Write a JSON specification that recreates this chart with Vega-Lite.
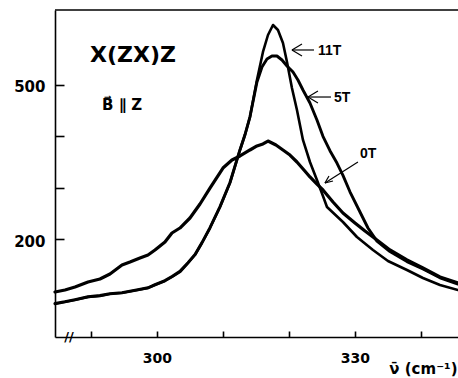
{
  "$schema": "https://vega.github.io/schema/vega-lite/v6.json",
  "width": 403,
  "height": 327,
  "autosize": {"type": "none"},
  "padding": {"left": 55, "top": 10, "right": 0, "bottom": 41},
  "background": "white",
  "config": {
    "view": {"stroke": null},
    "axis": {
      "grid": false,
      "domainColor": "black",
      "domainWidth": 1.6,
      "tickColor": "black",
      "tickWidth": 1.6,
      "labelColor": "black",
      "labelFont": "DejaVu Sans",
      "labelFontWeight": "bold",
      "titleColor": "black"
    }
  },
  "datasets": {
    "spectra": [
      {"field": "0T", "wavenumber": 284.55, "intensity": 96.8},
      {"field": "0T", "wavenumber": 286.06, "intensity": 100.7},
      {"field": "0T", "wavenumber": 287.58, "intensity": 106.5},
      {"field": "0T", "wavenumber": 289.55, "intensity": 116.2},
      {"field": "0T", "wavenumber": 291.36, "intensity": 122.1},
      {"field": "0T", "wavenumber": 292.88, "intensity": 131.8},
      {"field": "0T", "wavenumber": 294.7, "intensity": 149.4},
      {"field": "0T", "wavenumber": 295.91, "intensity": 155.2},
      {"field": "0T", "wavenumber": 297.42, "intensity": 163.0},
      {"field": "0T", "wavenumber": 298.64, "intensity": 168.8},
      {"field": "0T", "wavenumber": 299.7, "intensity": 178.6},
      {"field": "0T", "wavenumber": 301.21, "intensity": 194.2},
      {"field": "0T", "wavenumber": 302.27, "intensity": 211.7},
      {"field": "0T", "wavenumber": 303.48, "intensity": 221.4},
      {"field": "0T", "wavenumber": 305.0, "intensity": 240.9},
      {"field": "0T", "wavenumber": 306.52, "intensity": 268.2},
      {"field": "0T", "wavenumber": 308.03, "intensity": 299.3},
      {"field": "0T", "wavenumber": 310.0, "intensity": 338.3},
      {"field": "0T", "wavenumber": 311.36, "intensity": 353.9},
      {"field": "0T", "wavenumber": 312.58, "intensity": 361.7},
      {"field": "0T", "wavenumber": 314.09, "intensity": 373.4},
      {"field": "0T", "wavenumber": 315.15, "intensity": 381.2},
      {"field": "0T", "wavenumber": 316.06, "intensity": 385.1},
      {"field": "0T", "wavenumber": 316.82, "intensity": 390.9},
      {"field": "0T", "wavenumber": 317.42, "intensity": 387.0},
      {"field": "0T", "wavenumber": 318.03, "intensity": 383.1},
      {"field": "0T", "wavenumber": 319.09, "intensity": 373.4},
      {"field": "0T", "wavenumber": 320.15, "intensity": 363.6},
      {"field": "0T", "wavenumber": 321.21, "intensity": 350.0},
      {"field": "0T", "wavenumber": 322.27, "intensity": 334.4},
      {"field": "0T", "wavenumber": 323.18, "intensity": 320.8},
      {"field": "0T", "wavenumber": 324.24, "intensity": 307.1},
      {"field": "0T", "wavenumber": 325.15, "intensity": 295.5},
      {"field": "0T", "wavenumber": 326.67, "intensity": 272.1},
      {"field": "0T", "wavenumber": 328.18, "intensity": 250.6},
      {"field": "0T", "wavenumber": 330.0, "intensity": 231.2},
      {"field": "0T", "wavenumber": 331.52, "intensity": 215.6},
      {"field": "0T", "wavenumber": 333.33, "intensity": 198.1},
      {"field": "0T", "wavenumber": 335.3, "intensity": 178.6},
      {"field": "0T", "wavenumber": 337.88, "intensity": 159.1},
      {"field": "0T", "wavenumber": 340.3, "intensity": 143.5},
      {"field": "0T", "wavenumber": 342.88, "intensity": 126.0},
      {"field": "0T", "wavenumber": 345.61, "intensity": 114.3},

      {"field": "11T", "wavenumber": 284.55, "intensity": 73.4},
      {"field": "11T", "wavenumber": 286.06, "intensity": 77.3},
      {"field": "11T", "wavenumber": 287.58, "intensity": 81.2},
      {"field": "11T", "wavenumber": 289.55, "intensity": 87.0},
      {"field": "11T", "wavenumber": 291.36, "intensity": 89.0},
      {"field": "11T", "wavenumber": 292.88, "intensity": 92.9},
      {"field": "11T", "wavenumber": 294.7, "intensity": 94.8},
      {"field": "11T", "wavenumber": 297.12, "intensity": 100.7},
      {"field": "11T", "wavenumber": 298.64, "intensity": 104.5},
      {"field": "11T", "wavenumber": 299.7, "intensity": 110.4},
      {"field": "11T", "wavenumber": 301.21, "intensity": 118.2},
      {"field": "11T", "wavenumber": 302.27, "intensity": 126.0},
      {"field": "11T", "wavenumber": 303.48, "intensity": 135.7},
      {"field": "11T", "wavenumber": 304.7, "intensity": 153.2},
      {"field": "11T", "wavenumber": 305.76, "intensity": 168.8},
      {"field": "11T", "wavenumber": 306.82, "intensity": 192.2},
      {"field": "11T", "wavenumber": 308.03, "intensity": 221.4},
      {"field": "11T", "wavenumber": 309.55, "intensity": 262.3},
      {"field": "11T", "wavenumber": 311.06, "intensity": 309.1},
      {"field": "11T", "wavenumber": 312.58, "intensity": 373.4},
      {"field": "11T", "wavenumber": 313.33, "intensity": 402.6},
      {"field": "11T", "wavenumber": 314.09, "intensity": 437.7},
      {"field": "11T", "wavenumber": 315.15, "intensity": 509.7},
      {"field": "11T", "wavenumber": 316.06, "intensity": 564.3},
      {"field": "11T", "wavenumber": 316.82, "intensity": 597.4},
      {"field": "11T", "wavenumber": 317.58, "intensity": 616.9},
      {"field": "11T", "wavenumber": 318.33, "intensity": 607.1},
      {"field": "11T", "wavenumber": 319.09, "intensity": 581.8},
      {"field": "11T", "wavenumber": 319.7, "intensity": 544.8},
      {"field": "11T", "wavenumber": 320.45, "intensity": 494.1},
      {"field": "11T", "wavenumber": 321.21, "intensity": 451.3},
      {"field": "11T", "wavenumber": 322.12, "intensity": 392.9},
      {"field": "11T", "wavenumber": 323.18, "intensity": 350.0},
      {"field": "11T", "wavenumber": 324.24, "intensity": 314.9},
      {"field": "11T", "wavenumber": 325.15, "intensity": 283.8},
      {"field": "11T", "wavenumber": 325.76, "intensity": 262.3},
      {"field": "11T", "wavenumber": 328.18, "intensity": 233.1},
      {"field": "11T", "wavenumber": 330.3, "intensity": 203.9},
      {"field": "11T", "wavenumber": 332.73, "intensity": 178.6},
      {"field": "11T", "wavenumber": 335.0, "intensity": 157.1},
      {"field": "11T", "wavenumber": 337.88, "intensity": 139.6},
      {"field": "11T", "wavenumber": 340.3, "intensity": 124.0},
      {"field": "11T", "wavenumber": 342.88, "intensity": 110.4},
      {"field": "11T", "wavenumber": 345.61, "intensity": 100.7},

      {"field": "5T", "wavenumber": 284.55, "intensity": 74.5},
      {"field": "5T", "wavenumber": 286.06, "intensity": 78.0},
      {"field": "5T", "wavenumber": 287.58, "intensity": 82.0},
      {"field": "5T", "wavenumber": 289.55, "intensity": 87.5},
      {"field": "5T", "wavenumber": 291.36, "intensity": 90.0},
      {"field": "5T", "wavenumber": 292.88, "intensity": 93.5},
      {"field": "5T", "wavenumber": 294.7, "intensity": 95.5},
      {"field": "5T", "wavenumber": 297.12, "intensity": 101.5},
      {"field": "5T", "wavenumber": 298.64, "intensity": 105.0},
      {"field": "5T", "wavenumber": 299.7, "intensity": 111.0},
      {"field": "5T", "wavenumber": 301.21, "intensity": 119.0},
      {"field": "5T", "wavenumber": 302.27, "intensity": 127.0},
      {"field": "5T", "wavenumber": 303.48, "intensity": 137.0},
      {"field": "5T", "wavenumber": 304.7, "intensity": 154.0},
      {"field": "5T", "wavenumber": 305.76, "intensity": 170.0},
      {"field": "5T", "wavenumber": 306.82, "intensity": 193.0},
      {"field": "5T", "wavenumber": 308.03, "intensity": 222.0},
      {"field": "5T", "wavenumber": 309.55, "intensity": 263.0},
      {"field": "5T", "wavenumber": 311.06, "intensity": 310.0},
      {"field": "5T", "wavenumber": 312.58, "intensity": 374.0},
      {"field": "5T", "wavenumber": 313.33, "intensity": 403.0},
      {"field": "5T", "wavenumber": 314.09, "intensity": 438.0},
      {"field": "5T", "wavenumber": 315.15, "intensity": 505.8},
      {"field": "5T", "wavenumber": 315.91, "intensity": 535.1},
      {"field": "5T", "wavenumber": 316.67, "intensity": 550.6},
      {"field": "5T", "wavenumber": 317.42, "intensity": 556.5},
      {"field": "5T", "wavenumber": 318.18, "intensity": 556.5},
      {"field": "5T", "wavenumber": 318.94, "intensity": 548.7},
      {"field": "5T", "wavenumber": 319.7, "intensity": 537.0},
      {"field": "5T", "wavenumber": 320.61, "intensity": 525.3},
      {"field": "5T", "wavenumber": 321.36, "intensity": 509.7},
      {"field": "5T", "wavenumber": 322.12, "intensity": 490.3},
      {"field": "5T", "wavenumber": 323.18, "intensity": 464.9},
      {"field": "5T", "wavenumber": 324.24, "intensity": 431.8},
      {"field": "5T", "wavenumber": 325.15, "intensity": 400.0},
      {"field": "5T", "wavenumber": 326.21, "intensity": 372.0},
      {"field": "5T", "wavenumber": 327.27, "intensity": 348.0},
      {"field": "5T", "wavenumber": 328.18, "intensity": 324.0},
      {"field": "5T", "wavenumber": 329.24, "intensity": 292.0},
      {"field": "5T", "wavenumber": 330.76, "intensity": 252.6},
      {"field": "5T", "wavenumber": 331.97, "intensity": 221.4},
      {"field": "5T", "wavenumber": 333.33, "intensity": 196.0},
      {"field": "5T", "wavenumber": 335.3, "intensity": 175.5},
      {"field": "5T", "wavenumber": 337.88, "intensity": 156.0},
      {"field": "5T", "wavenumber": 340.3, "intensity": 141.6},
      {"field": "5T", "wavenumber": 342.88, "intensity": 124.5},
      {"field": "5T", "wavenumber": 345.61, "intensity": 112.3}
    ]
  },
  "layer": [
    {
      "data": {"name": "spectra"},
      "mark": {"type": "line", "color": "black", "strokeJoin": "round", "strokeCap": "round"},
      "encoding": {
        "x": {
          "field": "wavenumber",
          "type": "quantitative",
          "scale": {"domain": [284.55, 345.61], "nice": false, "zero": false},
          "axis": {
            "values": [290, 300, 310, 320, 330, 340],
            "labelExpr": "datum.value == 300 || datum.value == 330 ? datum.label : ''",
            "tickSize": -6,
            "labelFontSize": 14,
            "labelPadding": 20,
            "labelFlush": false,
            "title": "ν̄ (cm⁻¹)",
            "titleFont": "DejaVu Sans",
            "titleFontWeight": "bold",
            "titleFontSize": 15,
            "titleAlign": "right",
            "titleBaseline": "alphabetic",
            "titleX": 402,
            "titleY": 36
          }
        },
        "y": {
          "field": "intensity",
          "type": "quantitative",
          "scale": {"domain": [9.1, 646.1], "nice": false, "zero": false},
          "axis": {
            "values": [200, 300, 400, 500],
            "labelExpr": "datum.value == 200 || datum.value == 500 ? datum.label : ''",
            "tickSize": -9,
            "labelFontSize": 15,
            "labelPadding": 19,
            "labelOffset": 2,
            "labelFlush": false,
            "title": null
          }
        },
        "detail": {"field": "field"},
        "strokeWidth": {
          "field": "field",
          "type": "nominal",
          "scale": {"domain": ["0T", "5T", "11T"], "range": [3.2, 2.6, 2.6]},
          "legend": null
        }
      }
    },
    {
      "data": {"values": [{}]},
      "mark": {"type": "rule", "color": "black", "strokeWidth": 1.6},
      "encoding": {"y": {"datum": 646.1}}
    },
    {
      "data": {"values": [{}]},
      "mark": {"type": "rule", "color": "black", "strokeWidth": 1.2},
      "encoding": {"x": {"datum": 320.45}, "y": {"datum": 568.2}, "x2": {"datum": 323.79}, "y2": {"datum": 568.2}}
    },
    {
      "data": {"values": [{}]},
      "mark": {"type": "rule", "color": "black", "strokeWidth": 1.2},
      "encoding": {"x": {"datum": 320.45}, "y": {"datum": 568.2}, "x2": {"datum": 321.97}, "y2": {"datum": 579.9}}
    },
    {
      "data": {"values": [{}]},
      "mark": {"type": "rule", "color": "black", "strokeWidth": 1.2},
      "encoding": {"x": {"datum": 320.45}, "y": {"datum": 568.2}, "x2": {"datum": 321.97}, "y2": {"datum": 556.5}}
    },
    {
      "data": {"values": [{}]},
      "mark": {"type": "rule", "color": "black", "strokeWidth": 1.2},
      "encoding": {"x": {"datum": 322.88}, "y": {"datum": 476.6}, "x2": {"datum": 326.36}, "y2": {"datum": 476.6}}
    },
    {
      "data": {"values": [{}]},
      "mark": {"type": "rule", "color": "black", "strokeWidth": 1.2},
      "encoding": {"x": {"datum": 322.88}, "y": {"datum": 476.6}, "x2": {"datum": 324.39}, "y2": {"datum": 488.3}}
    },
    {
      "data": {"values": [{}]},
      "mark": {"type": "rule", "color": "black", "strokeWidth": 1.2},
      "encoding": {"x": {"datum": 322.88}, "y": {"datum": 476.6}, "x2": {"datum": 324.39}, "y2": {"datum": 464.9}}
    },
    {
      "data": {"values": [{}]},
      "mark": {"type": "rule", "color": "black", "strokeWidth": 1.2},
      "encoding": {"x": {"datum": 330.45}, "y": {"datum": 350.0}, "x2": {"datum": 325.45}, "y2": {"datum": 309.1}}
    },
    {
      "data": {"values": [{}]},
      "mark": {"type": "rule", "color": "black", "strokeWidth": 1.2},
      "encoding": {"x": {"datum": 325.45}, "y": {"datum": 309.1}, "x2": {"datum": 326.67}, "y2": {"datum": 313.0}}
    },
    {
      "data": {"values": [{}]},
      "mark": {"type": "rule", "color": "black", "strokeWidth": 1.2},
      "encoding": {"x": {"datum": 325.45}, "y": {"datum": 309.1}, "x2": {"datum": 326.06}, "y2": {"datum": 322.7}}
    },
    {
      "data": {"values": [{}]},
      "mark": {"type": "text", "align": "left", "baseline": "alphabetic", "font": "Liberation Sans", "fontWeight": "bold", "fontSize": 14, "color": "black"},
      "encoding": {"x": {"datum": 324.39}, "y": {"datum": 558.4}, "text": {"value": "11T"}}
    },
    {
      "data": {"values": [{}]},
      "mark": {"type": "text", "align": "left", "baseline": "alphabetic", "font": "Liberation Sans", "fontWeight": "bold", "fontSize": 14, "color": "black"},
      "encoding": {"x": {"datum": 326.82}, "y": {"datum": 466.9}, "text": {"value": "5T"}}
    },
    {
      "data": {"values": [{}]},
      "mark": {"type": "text", "align": "left", "baseline": "alphabetic", "font": "Liberation Sans", "fontWeight": "bold", "fontSize": 14, "color": "black"},
      "encoding": {"x": {"datum": 330.76}, "y": {"datum": 357.8}, "text": {"value": "0T"}}
    },
    {
      "data": {"values": [{}]},
      "mark": {"type": "text", "align": "left", "baseline": "alphabetic", "font": "DejaVu Sans", "fontWeight": "bold", "fontSize": 22, "color": "black"},
      "encoding": {"x": {"datum": 289.85}, "y": {"datum": 544.8}, "text": {"value": "X(ZX)Z"}}
    },
    {
      "data": {"values": [{}]},
      "mark": {"type": "text", "align": "left", "baseline": "alphabetic", "font": "DejaVu Sans", "fontWeight": "bold", "fontSize": 15, "color": "black"},
      "encoding": {"x": {"datum": 291.67}, "y": {"datum": 451.3}, "text": {"value": "B⃗ ∥ Z"}}
    },
    {
      "data": {"values": [{}]},
      "mark": {"type": "text", "align": "center", "baseline": "middle", "font": "DejaVu Sans", "fontWeight": "bold", "fontSize": 13, "color": "black"},
      "encoding": {"x": {"datum": 286.67}, "y": {"datum": 9.1}, "text": {"value": "//"}}
    }
  ]
}
